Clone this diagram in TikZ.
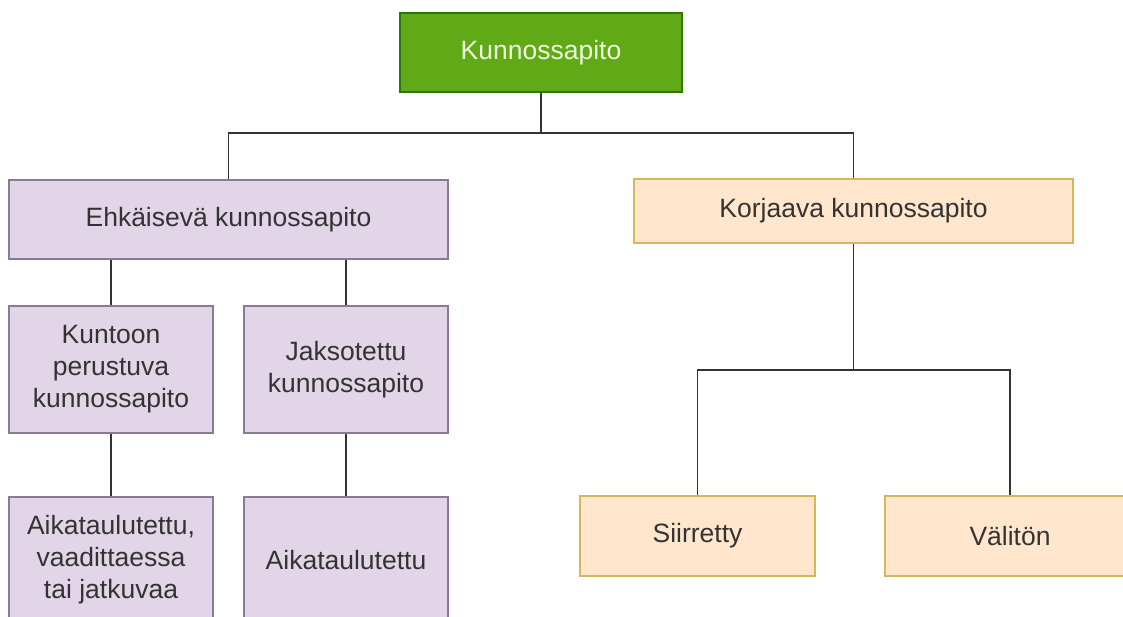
\documentclass[tikz,border=0pt]{standalone}
\usepackage{fontspec}
\setmainfont{Liberation Sans}
\definecolor{gfill}{HTML}{60A917}
\definecolor{gdraw}{HTML}{2D7600}
\definecolor{gtext}{HTML}{EEF8DD}
\definecolor{pfill}{HTML}{E1D5E7}
\definecolor{pdraw}{HTML}{8A7A92}
\definecolor{ofill}{HTML}{FFE6CC}
\definecolor{odraw}{HTML}{D6B656}
\definecolor{txt}{HTML}{333333}
\definecolor{ln}{HTML}{333333}
\tikzset{
  box/.style={rectangle, draw, line width=1.3pt, align=center, text=txt, inner sep=0pt,
    font=\fontsize{26.5}{32}\selectfont},
  greenbox/.style={box, fill=gfill, draw=gdraw, text=gtext},
  purplebox/.style={box, fill=pfill, draw=pdraw},
  orangebox/.style={box, fill=ofill, draw=odraw},
  conn/.style={draw=ln, line width=1.8pt}
}
\begin{document}
\begin{tikzpicture}[x=1pt,y=-1pt]
\useasboundingbox (0,0) rectangle (1123,617);
\begin{scope}
\clip (0,0) rectangle (1123,617);
\node[greenbox, minimum width=282pt, minimum height=79pt] (top) at (541,52.5) {Kunnossapito};
\node[purplebox, minimum width=439pt, minimum height=79pt] (ehk) at (228.5,219.5) {Ehkäisevä kunnossapito};
\node[orangebox, minimum width=439pt, minimum height=64pt] (kor) at (853.5,211) {Korjaava kunnossapito};
\node[purplebox, minimum width=204pt, minimum height=127pt] (kun) at (111,369.5) {Kuntoon\\perustuva\\kunnossapito};
\node[purplebox, minimum width=204pt, minimum height=127pt] (jak) at (346,369.5) {Jaksotettu\\kunnossapito};
\node[purplebox, minimum width=204pt, minimum height=126pt] (aik1) at (111,560) {Aikataulutettu,\\vaadittaessa\\tai jatkuvaa};
\node[purplebox, minimum width=204pt, minimum height=126pt] (aik2) at (346,560) {Aikataulutettu};
\node[orangebox, minimum width=235pt, minimum height=80pt] (sii) at (697.5,536) {Siirretty};
\node[orangebox, minimum width=250pt, minimum height=80pt] (val) at (1010,536) {Välitön};
\coordinate (j1) at (541,133);
\coordinate (j2) at (853.5,370);
\draw[conn] (top.south) -- (j1);
\draw[conn] (j1) -| (ehk.north);
\draw[conn] (j1) -| (kor.north);
\draw[conn] (kun.north) -- (kun.north |- ehk.south);
\draw[conn] (jak.north) -- (jak.north |- ehk.south);
\draw[conn] (aik1.north) -- (aik1.north |- kun.south);
\draw[conn] (aik2.north) -- (aik2.north |- jak.south);
\draw[conn] (kor.south) -- (j2);
\draw[conn] (j2) -| (sii.north);
\draw[conn] (j2) -| (val.north);
\end{scope}
\end{tikzpicture}
\end{document}
